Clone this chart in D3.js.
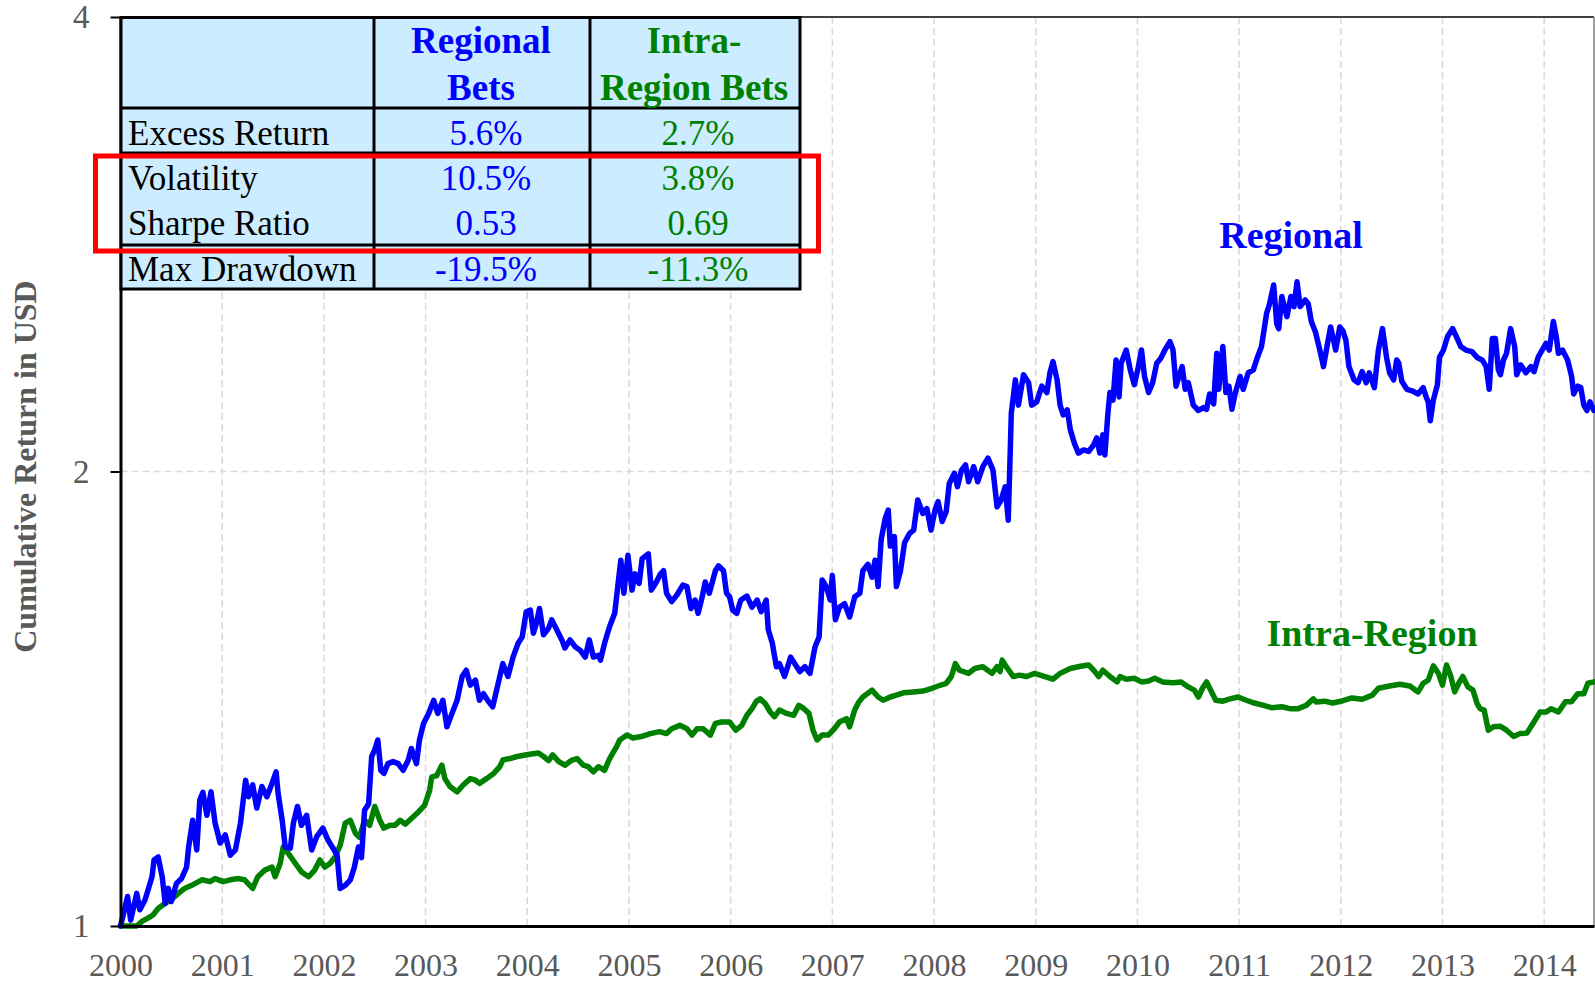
<!DOCTYPE html>
<html>
<head>
<meta charset="utf-8">
<script src="https://cdn.jsdelivr.net/npm/d3@7/dist/d3.min.js"></script>
<style>
  html, body { margin: 0; padding: 0; background: #fff; overflow: hidden; }
  svg text { font-family: "Liberation Serif", "Times New Roman", serif; }
</style>
</head>
<body>
<div id="chart"></div>
<script>
// values: [year, cumulative return]
var regional = [
  [2000.00,1.000],[2000.07,1.046],[2000.10,1.009],[2000.16,1.051],[2000.19,1.025],[2000.24,1.040],[2000.27,1.056],
  [2000.31,1.078],[2000.33,1.106],[2000.37,1.111],[2000.41,1.078],[2000.44,1.035],[2000.47,1.059],[2000.50,1.038],
  [2000.55,1.067],[2000.60,1.075],[2000.65,1.094],[2000.67,1.128],[2000.71,1.175],[2000.75,1.123],[2000.78,1.212],
  [2000.81,1.226],[2000.85,1.184],[2000.89,1.227],[2000.93,1.170],[2000.98,1.135],[2001.03,1.149],[2001.08,1.114],
  [2001.13,1.123],[2001.18,1.170],[2001.23,1.249],[2001.26,1.218],[2001.30,1.240],[2001.34,1.197],[2001.39,1.237],
  [2001.44,1.218],[2001.49,1.243],[2001.53,1.265],[2001.55,1.224],[2001.59,1.175],[2001.62,1.128],[2001.67,1.126],
  [2001.70,1.170],[2001.74,1.200],[2001.78,1.166],[2001.83,1.184],[2001.88,1.123],[2001.93,1.146],[2001.99,1.161],
  [2002.04,1.140],[2002.09,1.126],[2002.13,1.114],[2002.16,1.059],[2002.21,1.064],[2002.26,1.073],[2002.30,1.094],
  [2002.34,1.128],[2002.37,1.110],[2002.40,1.193],[2002.44,1.205],[2002.47,1.295],[2002.50,1.308],[2002.53,1.328],
  [2002.56,1.268],[2002.59,1.262],[2002.63,1.281],[2002.68,1.285],[2002.73,1.281],[2002.78,1.268],[2002.83,1.288],
  [2002.86,1.311],[2002.91,1.281],[2002.94,1.328],[2002.98,1.362],[2003.03,1.383],[2003.08,1.411],[2003.12,1.383],
  [2003.17,1.411],[2003.21,1.355],[2003.26,1.383],[2003.31,1.411],[2003.36,1.463],[2003.40,1.477],[2003.44,1.444],
  [2003.49,1.455],[2003.53,1.411],[2003.57,1.425],[2003.62,1.408],[2003.66,1.397],[2003.71,1.444],[2003.76,1.492],
  [2003.81,1.463],[2003.86,1.507],[2003.91,1.539],[2003.95,1.554],[2003.99,1.615],[2004.03,1.619],[2004.06,1.563],
  [2004.09,1.587],[2004.12,1.623],[2004.16,1.559],[2004.21,1.575],[2004.24,1.595],[2004.29,1.571],[2004.34,1.547],
  [2004.37,1.528],[2004.42,1.547],[2004.47,1.531],[2004.52,1.523],[2004.57,1.507],[2004.61,1.547],[2004.65,1.507],
  [2004.70,1.511],[2004.72,1.500],[2004.76,1.539],[2004.81,1.579],[2004.86,1.611],[2004.89,1.678],[2004.92,1.747],
  [2004.95,1.661],[2004.99,1.760],[2005.03,1.669],[2005.06,1.711],[2005.10,1.686],[2005.13,1.751],[2005.19,1.764],
  [2005.22,1.669],[2005.27,1.690],[2005.31,1.711],[2005.34,1.719],[2005.37,1.661],[2005.42,1.640],[2005.47,1.656],
  [2005.53,1.682],[2005.57,1.678],[2005.61,1.623],[2005.65,1.644],[2005.68,1.611],[2005.72,1.652],[2005.75,1.690],
  [2005.79,1.661],[2005.85,1.719],[2005.88,1.732],[2005.93,1.719],[2005.96,1.661],[2005.99,1.652],[2006.02,1.619],
  [2006.06,1.611],[2006.10,1.644],[2006.16,1.654],[2006.21,1.626],[2006.26,1.644],[2006.30,1.615],[2006.35,1.644],
  [2006.37,1.571],[2006.41,1.539],[2006.45,1.485],[2006.48,1.492],[2006.53,1.463],[2006.59,1.507],[2006.63,1.492],
  [2006.68,1.474],[2006.73,1.485],[2006.78,1.470],[2006.83,1.531],[2006.87,1.554],[2006.90,1.695],[2006.94,1.678],
  [2006.98,1.644],[2007.00,1.707],[2007.03,1.595],[2007.07,1.626],[2007.12,1.635],[2007.17,1.602],[2007.22,1.652],
  [2007.27,1.661],[2007.30,1.719],[2007.35,1.736],[2007.39,1.702],[2007.42,1.747],[2007.45,1.678],[2007.48,1.802],
  [2007.52,1.862],[2007.55,1.886],[2007.57,1.785],[2007.61,1.811],[2007.63,1.678],[2007.67,1.719],[2007.71,1.794],
  [2007.76,1.820],[2007.80,1.829],[2007.84,1.915],[2007.89,1.876],[2007.93,1.890],[2007.97,1.829],[2008.01,1.886],
  [2008.04,1.910],[2008.08,1.853],[2008.12,1.882],[2008.15,1.964],[2008.20,1.995],[2008.23,1.954],[2008.27,2.004],
  [2008.31,2.020],[2008.34,1.969],[2008.39,2.015],[2008.43,1.969],[2008.48,2.015],[2008.53,2.041],[2008.58,2.004],
  [2008.62,1.895],[2008.66,1.915],[2008.70,1.954],[2008.73,1.857],[2008.76,2.186],[2008.80,2.300],[2008.83,2.213],
  [2008.88,2.318],[2008.93,2.290],[2008.96,2.213],[2009.01,2.224],[2009.06,2.278],[2009.11,2.256],[2009.14,2.325],
  [2009.17,2.365],[2009.21,2.300],[2009.24,2.213],[2009.27,2.180],[2009.31,2.197],[2009.34,2.132],[2009.38,2.088],
  [2009.42,2.057],[2009.47,2.067],[2009.52,2.062],[2009.57,2.083],[2009.60,2.105],[2009.63,2.057],[2009.66,2.115],
  [2009.68,2.051],[2009.71,2.186],[2009.73,2.256],[2009.76,2.230],[2009.79,2.371],[2009.82,2.241],[2009.84,2.359],
  [2009.89,2.407],[2009.93,2.335],[2009.97,2.283],[2010.01,2.347],[2010.04,2.407],[2010.07,2.312],[2010.11,2.256],
  [2010.15,2.290],[2010.19,2.359],[2010.23,2.377],[2010.27,2.407],[2010.32,2.438],[2010.35,2.407],[2010.38,2.278],
  [2010.42,2.325],[2010.44,2.347],[2010.47,2.267],[2010.50,2.290],[2010.55,2.213],[2010.60,2.195],[2010.65,2.205],
  [2010.68,2.199],[2010.71,2.251],[2010.75,2.217],[2010.78,2.395],[2010.80,2.267],[2010.84,2.420],[2010.87,2.256],
  [2010.90,2.278],[2010.93,2.199],[2010.96,2.251],[2011.01,2.312],[2011.04,2.267],[2011.09,2.325],[2011.14,2.335],
  [2011.18,2.380],[2011.22,2.420],[2011.25,2.493],[2011.27,2.545],[2011.30,2.583],[2011.34,2.658],[2011.37,2.506],
  [2011.39,2.487],[2011.42,2.612],[2011.47,2.533],[2011.51,2.612],[2011.54,2.572],[2011.57,2.671],[2011.60,2.572],
  [2011.65,2.598],[2011.68,2.583],[2011.71,2.514],[2011.75,2.475],[2011.79,2.413],[2011.83,2.347],[2011.87,2.432],
  [2011.90,2.493],[2011.95,2.407],[2011.99,2.493],[2012.02,2.479],[2012.05,2.444],[2012.08,2.347],[2012.13,2.300],
  [2012.17,2.290],[2012.21,2.329],[2012.25,2.290],[2012.28,2.325],[2012.33,2.273],[2012.37,2.407],[2012.41,2.487],
  [2012.45,2.380],[2012.48,2.325],[2012.52,2.300],[2012.55,2.371],[2012.57,2.359],[2012.60,2.295],[2012.65,2.267],
  [2012.70,2.262],[2012.76,2.251],[2012.81,2.273],[2012.84,2.240],[2012.86,2.224],[2012.88,2.161],[2012.91,2.230],
  [2012.95,2.283],[2012.97,2.380],[2013.01,2.407],[2013.05,2.457],[2013.10,2.487],[2013.14,2.454],[2013.18,2.420],
  [2013.23,2.407],[2013.29,2.401],[2013.34,2.380],[2013.39,2.371],[2013.43,2.347],[2013.46,2.267],[2013.49,2.450],
  [2013.52,2.450],[2013.55,2.335],[2013.57,2.318],[2013.60,2.371],[2013.63,2.395],[2013.67,2.487],[2013.71,2.420],
  [2013.73,2.318],[2013.77,2.353],[2013.82,2.325],[2013.87,2.347],[2013.90,2.329],[2013.94,2.380],[2013.98,2.407],
  [2014.02,2.432],[2014.05,2.407],[2014.09,2.514],[2014.12,2.454],[2014.14,2.395],[2014.18,2.407],[2014.23,2.371],
  [2014.27,2.312],[2014.29,2.251],[2014.33,2.278],[2014.36,2.273],[2014.39,2.213],[2014.42,2.195],[2014.45,2.224],
  [2014.49,2.195]
];

var intraRegion = [
  [2000.00,1.000],[2000.16,1.000],[2000.21,1.007],[2000.27,1.012],[2000.32,1.017],[2000.37,1.027],[2000.42,1.033],
  [2000.49,1.040],[2000.57,1.051],[2000.63,1.059],[2000.70,1.064],[2000.80,1.073],[2000.88,1.070],[2000.93,1.075],
  [2001.01,1.070],[2001.08,1.073],[2001.16,1.075],[2001.22,1.073],[2001.30,1.059],[2001.35,1.078],[2001.42,1.089],
  [2001.49,1.094],[2001.52,1.078],[2001.57,1.100],[2001.60,1.128],[2001.65,1.117],[2001.72,1.100],[2001.78,1.086],
  [2001.85,1.078],[2001.91,1.089],[2001.96,1.106],[2002.01,1.094],[2002.06,1.100],[2002.11,1.111],[2002.16,1.131],
  [2002.21,1.170],[2002.26,1.175],[2002.31,1.152],[2002.35,1.145],[2002.40,1.175],[2002.45,1.166],[2002.50,1.200],
  [2002.55,1.175],[2002.59,1.161],[2002.65,1.166],[2002.70,1.166],[2002.75,1.175],[2002.80,1.168],[2002.86,1.178],
  [2002.93,1.190],[2002.99,1.202],[2003.04,1.230],[2003.06,1.255],[2003.11,1.258],[2003.16,1.278],[2003.19,1.252],
  [2003.24,1.237],[2003.31,1.227],[2003.37,1.240],[2003.44,1.252],[2003.49,1.249],[2003.53,1.243],[2003.60,1.252],
  [2003.67,1.262],[2003.73,1.275],[2003.76,1.288],[2003.83,1.291],[2003.90,1.295],[2003.98,1.298],[2004.04,1.300],
  [2004.11,1.302],[2004.16,1.295],[2004.21,1.287],[2004.25,1.298],[2004.31,1.285],[2004.37,1.278],[2004.44,1.288],
  [2004.49,1.291],[2004.55,1.278],[2004.60,1.275],[2004.65,1.265],[2004.70,1.275],[2004.76,1.268],[2004.81,1.291],
  [2004.88,1.315],[2004.91,1.328],[2004.98,1.338],[2005.04,1.332],[2005.12,1.335],[2005.21,1.341],[2005.30,1.345],
  [2005.37,1.341],[2005.42,1.351],[2005.50,1.358],[2005.57,1.351],[2005.62,1.338],[2005.67,1.351],[2005.73,1.351],
  [2005.80,1.338],[2005.85,1.362],[2005.91,1.365],[2005.99,1.365],[2006.05,1.348],[2006.11,1.358],[2006.16,1.379],
  [2006.21,1.393],[2006.25,1.408],[2006.29,1.414],[2006.34,1.404],[2006.39,1.386],[2006.43,1.376],[2006.48,1.390],
  [2006.55,1.383],[2006.62,1.379],[2006.67,1.400],[2006.72,1.393],[2006.77,1.383],[2006.81,1.348],[2006.85,1.328],
  [2006.90,1.338],[2006.96,1.338],[2007.02,1.351],[2007.07,1.365],[2007.14,1.372],[2007.17,1.355],[2007.22,1.390],
  [2007.26,1.407],[2007.30,1.418],[2007.39,1.433],[2007.45,1.418],[2007.50,1.411],[2007.57,1.418],[2007.63,1.422],
  [2007.70,1.427],[2007.80,1.429],[2007.89,1.431],[2007.98,1.437],[2008.04,1.442],[2008.12,1.448],[2008.17,1.463],
  [2008.21,1.492],[2008.25,1.477],[2008.34,1.470],[2008.40,1.481],[2008.48,1.485],[2008.57,1.470],[2008.62,1.485],
  [2008.65,1.474],[2008.67,1.500],[2008.71,1.485],[2008.78,1.463],[2008.84,1.466],[2008.91,1.463],[2008.99,1.470],
  [2009.09,1.463],[2009.17,1.457],[2009.24,1.470],[2009.34,1.481],[2009.44,1.486],[2009.52,1.489],[2009.57,1.477],
  [2009.62,1.463],[2009.66,1.477],[2009.73,1.463],[2009.80,1.451],[2009.83,1.463],[2009.89,1.457],[2009.97,1.459],
  [2010.04,1.451],[2010.11,1.453],[2010.17,1.459],[2010.25,1.451],[2010.35,1.449],[2010.43,1.451],[2010.50,1.440],
  [2010.56,1.433],[2010.60,1.418],[2010.64,1.437],[2010.68,1.451],[2010.72,1.433],[2010.77,1.411],[2010.84,1.409],
  [2010.91,1.414],[2010.99,1.418],[2011.07,1.411],[2011.15,1.405],[2011.24,1.400],[2011.32,1.395],[2011.42,1.397],
  [2011.50,1.393],[2011.58,1.393],[2011.66,1.400],[2011.73,1.414],[2011.76,1.407],[2011.84,1.409],[2011.92,1.405],
  [2012.02,1.410],[2012.11,1.416],[2012.21,1.413],[2012.31,1.422],[2012.37,1.437],[2012.48,1.442],[2012.58,1.446],
  [2012.68,1.442],[2012.76,1.429],[2012.81,1.448],[2012.86,1.455],[2012.91,1.487],[2012.96,1.470],[2013.00,1.444],
  [2013.04,1.489],[2013.08,1.465],[2013.12,1.429],[2013.16,1.448],[2013.20,1.463],[2013.25,1.440],[2013.30,1.433],
  [2013.34,1.404],[2013.37,1.393],[2013.41,1.390],[2013.45,1.348],[2013.50,1.355],[2013.57,1.356],[2013.63,1.348],
  [2013.70,1.335],[2013.76,1.341],[2013.83,1.342],[2013.89,1.362],[2013.96,1.386],[2014.02,1.386],[2014.07,1.393],
  [2014.14,1.386],[2014.21,1.408],[2014.27,1.408],[2014.33,1.425],[2014.39,1.425],[2014.43,1.448],[2014.49,1.451]
];

var yearTicks = d3.range(2000, 2015);
var yTicks = [1, 2, 4];

var headerRegional = ["Regional", "Bets"];
var headerIntra = ["Intra-", "Region Bets"];
var rowLabels = ["Excess Return", "Volatility", "Sharpe Ratio", "Max Drawdown"];
var regionalStats = ["5.6%", "10.5%", "0.53", "-19.5%"];
var intraStats = ["2.7%", "3.8%", "0.69", "-11.3%"];

(function() {
    var width = 1595, height = 982;
    var plotLeft = 120.5, plotRight = 1594, plotTop = 17, plotBottom = 926;
    var blue = "#0000ff", green = "#008000", grey = "#595959";

    var svg = d3.select("#chart").append("svg")
        .attr("width", width)
        .attr("height", height);

    var x = d3.scaleLinear().domain([2000, 2014.49]).range([plotLeft, plotRight]);
    var y = d3.scaleLog().domain([1, 4]).range([plotBottom, plotTop]);

    // dashed grid
    svg.append("g").selectAll("line")
        .data(yearTicks.slice(1))
        .enter().append("line")
        .attr("x1", d => x(d)).attr("x2", d => x(d))
        .attr("y1", plotTop).attr("y2", plotBottom)
        .attr("stroke", "#d9d9d9").attr("stroke-width", 1.5)
        .attr("stroke-dasharray", "7,4");

    svg.append("line")
        .attr("x1", plotLeft).attr("x2", plotRight)
        .attr("y1", y(2)).attr("y2", y(2))
        .attr("stroke", "#d9d9d9").attr("stroke-width", 1.5)
        .attr("stroke-dasharray", "7,4");

    // plot border top/right
    svg.append("line")
        .attr("x1", plotLeft).attr("x2", plotRight).attr("y1", y(4)).attr("y2", y(4))
        .attr("stroke", "#404040").attr("stroke-width", 2);
    svg.append("line")
        .attr("x1", plotRight).attr("x2", plotRight).attr("y1", plotTop).attr("y2", plotBottom)
        .attr("stroke", "#7f7f7f").attr("stroke-width", 1.5);

    // series
    var line = d3.line()
        .x(d => x(d[0]))
        .y(d => y(d[1]));

    svg.append("path")
        .datum(intraRegion)
        .attr("fill", "none")
        .attr("stroke", green)
        .attr("stroke-width", 5.5)
        .attr("stroke-linejoin", "round")
        .attr("stroke-linecap", "round")
        .attr("d", line);

    svg.append("path")
        .datum(regional)
        .attr("fill", "none")
        .attr("stroke", blue)
        .attr("stroke-width", 5.5)
        .attr("stroke-linejoin", "round")
        .attr("stroke-linecap", "round")
        .attr("d", line);

    // axes
    var xAxis = d3.axisBottom(x)
        .tickValues(yearTicks)
        .tickFormat(d3.format("d"))
        .tickSize(0)
        .tickSizeOuter(0)
        .tickPadding(27);

    var gX = svg.append("g")
        .attr("transform", "translate(0," + plotBottom + ")")
        .call(xAxis);
    gX.select(".domain").attr("stroke", "#000").attr("stroke-width", 3);
    gX.selectAll("text")
        .attr("fill", grey)
        .style("font-size", "32px")
        .style("font-family", "'Liberation Serif', serif");

    var yAxis = d3.axisLeft(y)
        .tickValues(yTicks)
        .tickFormat(d3.format("d"))
        .tickSize(10)
        .tickSizeOuter(0)
        .tickPadding(21);

    var gY = svg.append("g")
        .attr("transform", "translate(" + plotLeft + ",0)")
        .call(yAxis);
    gY.select(".domain").attr("stroke", "#000").attr("stroke-width", 3);
    gY.selectAll(".tick line").attr("stroke", "#000").attr("stroke-width", 2);
    gY.selectAll("text")
        .attr("fill", grey)
        .style("font-size", "33px")
        .style("font-family", "'Liberation Serif', serif");

    svg.append("text")
        .attr("transform", "translate(36," + ((plotTop + plotBottom) / 2 - 5) + ") rotate(-90)")
        .attr("text-anchor", "middle")
        .attr("fill", grey)
        .style("font-size", "32px")
        .style("font-weight", "bold")
        .text("Cumulative Return in USD");

    // series labels
    svg.append("text")
        .attr("x", 1291).attr("y", 248)
        .attr("text-anchor", "middle")
        .attr("fill", blue)
        .style("font-size", "38px").style("font-weight", "bold")
        .text("Regional");

    svg.append("text")
        .attr("x", 1372).attr("y", 646)
        .attr("text-anchor", "middle")
        .attr("fill", green)
        .style("font-size", "38px").style("font-weight", "bold")
        .text("Intra-Region");

    // stats table
    var tbl = svg.append("g");
    var tX = [121, 374, 590, 800];
    var tY = [17.5, 108, 153, 245, 289];

    tbl.append("rect")
        .attr("x", tX[0]).attr("y", tY[0])
        .attr("width", tX[3] - tX[0]).attr("height", tY[4] - tY[0])
        .attr("fill", "#ccecff")
        .attr("stroke", "#000").attr("stroke-width", 3);

    tbl.selectAll("line.h")
        .data(tY.slice(1, 4))
        .enter().append("line")
        .attr("x1", tX[0]).attr("x2", tX[3])
        .attr("y1", d => d).attr("y2", d => d)
        .attr("stroke", "#000").attr("stroke-width", 3);

    tbl.selectAll("line.v")
        .data(tX.slice(1, 3))
        .enter().append("line")
        .attr("x1", d => d).attr("x2", d => d)
        .attr("y1", tY[0]).attr("y2", tY[4])
        .attr("stroke", "#000").attr("stroke-width", 3);

    var headBase = [53, 100];
    var rowBase = [145, 190, 235, 281];

    tbl.selectAll("text.hr")
        .data(headerRegional)
        .enter().append("text")
        .attr("x", 481).attr("y", (d, i) => headBase[i])
        .attr("text-anchor", "middle").attr("fill", blue)
        .style("font-size", "37px").style("font-weight", "bold")
        .text(d => d);

    tbl.selectAll("text.hi")
        .data(headerIntra)
        .enter().append("text")
        .attr("x", 694).attr("y", (d, i) => headBase[i])
        .attr("text-anchor", "middle").attr("fill", green)
        .style("font-size", "37px").style("font-weight", "bold")
        .text(d => d);

    tbl.selectAll("text.lab")
        .data(rowLabels)
        .enter().append("text")
        .attr("x", 128).attr("y", (d, i) => rowBase[i])
        .attr("fill", "#000")
        .style("font-size", "35px")
        .text(d => d);

    tbl.selectAll("text.rv")
        .data(regionalStats)
        .enter().append("text")
        .attr("x", 486).attr("y", (d, i) => rowBase[i])
        .attr("text-anchor", "middle").attr("fill", blue)
        .style("font-size", "35px")
        .text(d => d);

    tbl.selectAll("text.iv")
        .data(intraStats)
        .enter().append("text")
        .attr("x", 698).attr("y", (d, i) => rowBase[i])
        .attr("text-anchor", "middle").attr("fill", green)
        .style("font-size", "35px")
        .text(d => d);

    // highlight box round volatility and sharpe rows
    svg.append("rect")
        .attr("x", 95.5).attr("y", 156)
        .attr("width", 723).attr("height", 95)
        .attr("fill", "none")
        .attr("stroke", "#ff0000").attr("stroke-width", 5);
})();
</script>
</body>
</html>
